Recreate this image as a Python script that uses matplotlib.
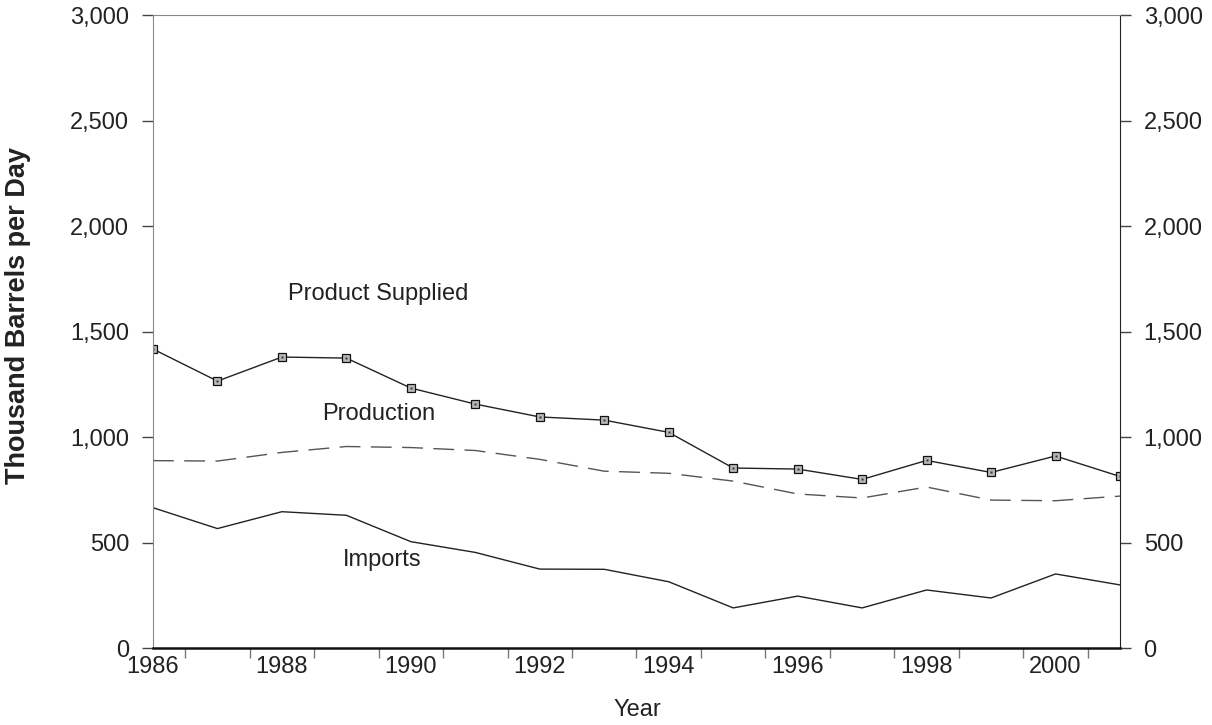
import numpy as np
import matplotlib
matplotlib.use("Agg")
import matplotlib.pyplot as plt
from matplotlib.ticker import FuncFormatter, FixedLocator

plt.rcParams['font.family'] = ['Liberation Sans', 'DejaVu Sans']

years = np.arange(1986, 2002)
product_supplied = [1417, 1265, 1379, 1374, 1232, 1156, 1095, 1080, 1022,
                    853, 848, 799, 889, 832, 910, 813]
production = [888, 886, 927, 955, 950, 936, 894, 838, 828,
              791, 730, 711, 763, 701, 698, 720]
imports = [665, 566, 646, 629, 504, 453, 374, 373, 314,
           190, 246, 190, 275, 237, 351, 299]

year_labels = [1986, 1988, 1990, 1992, 1994, 1996, 1998, 2000]
y_ticks = [0, 500, 1000, 1500, 2000, 2500, 3000]

fig = plt.figure(figsize=(12.12, 7.25), dpi=100)
ax = fig.add_axes([0.1262, 0.1062, 0.7979, 0.8731])

ax.plot(years, product_supplied, color='#222222', lw=1.0, marker='s',
        ms=6, mfc='#b8b8b8', mec='#111111', mew=0.9)
ax.plot(years, product_supplied, ls='none', marker='s', ms=2,
        mfc='#333333', mec='none')
ax.plot(years, production, color='#555555', lw=1.0, dashes=(15, 7.5))
ax.plot(years, imports, color='#222222', lw=1.0)

# series labels
ax.text(1988.1, 1680, 'Product Supplied', fontsize=17, va='center', color='#222222')
ax.text(1988.63, 1110, 'Production', fontsize=17, va='center', color='#222222')
ax.text(1988.94, 417, 'Imports', fontsize=17, va='center', color='#222222')

ax.set_xlim(1986, 2001)
ax.set_ylim(0, 3000)

ax.xaxis.set_major_locator(FixedLocator(year_labels))
ax.xaxis.set_minor_locator(FixedLocator(np.arange(1986.5, 2001, 1)))
ax.tick_params(axis='x', which='major', length=0, pad=6, labelsize=17, labelcolor='#222222')
ax.tick_params(axis='x', which='minor', length=7.5, width=1, color='#777777', direction='out')

ax.set_yticks(y_ticks)
ax.yaxis.set_major_formatter(FuncFormatter(lambda v, p: f'{int(v):,}'))
ax.tick_params(axis='y', which='major', length=8, width=1, color='#444444',
               direction='out', left=True, right=True, labelleft=True,
               labelright=True, labelsize=17, labelcolor='#222222', pad=9)

ax.spines['left'].set_color('#888888')
ax.spines['top'].set_color('#888888')
ax.spines['bottom'].set_color('#111111')
ax.spines['bottom'].set_linewidth(1.8)
ax.spines['right'].set_color('#222222')

fig.text(637 / 1212, 1 - 710 / 725, 'Year', fontsize=17, color='#222222',
         ha='center', va='center')
fig.text(18 / 1212, 1 - 316 / 725, 'Thousand Barrels per Day', fontsize=19.5,
         fontweight='bold', color='#222222', rotation=90, ha='center', va='center')

fig.savefig('out.png', dpi=100)
